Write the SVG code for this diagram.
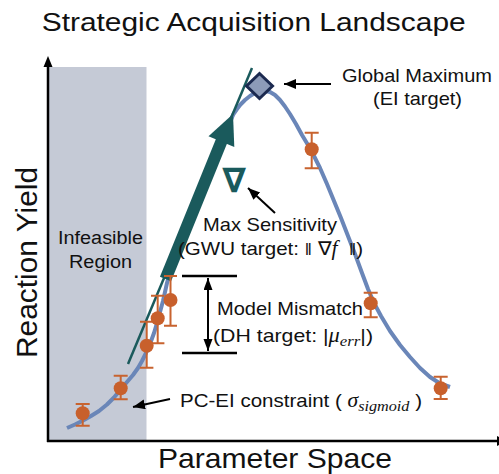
<svg xmlns="http://www.w3.org/2000/svg" width="499" height="474" viewBox="0 0 499 474">
<style>
.t{font-family:"Liberation Sans",Arial,sans-serif;fill:#111}
.m{font-family:"Liberation Serif","DejaVu Serif",serif;font-style:italic}
.eb{stroke:#c8632f;stroke-width:2;fill:none}
.dot{fill:#c8602c}
.ax{stroke:#000;stroke-width:2.5;fill:none}
.lbl{stroke:#000;stroke-width:2;fill:none}
</style>
<defs>
<marker id="ah" markerUnits="userSpaceOnUse" markerWidth="14" markerHeight="12" refX="12" refY="5" orient="auto">
<path d="M0,0 L12,5 L0,10 Z" fill="#000"/>
</marker>
<marker id="ah2" markerUnits="userSpaceOnUse" markerWidth="14" markerHeight="12" refX="12" refY="4.5" orient="auto-start-reverse">
<path d="M0,0 L12,4.5 L0,9 Z" fill="#000"/>
</marker>
</defs>
<rect x="48" y="67" width="98.5" height="374" fill="#c5cad6"/>
<g id="axes">
<line class="ax" x1="48" y1="442" x2="48" y2="66"/>
<path d="M43.5,67 L48,56 L52.5,67 Z" fill="#000"/>
<line class="ax" x1="47" y1="441" x2="497" y2="441"/>
<path d="M497,436 L508,441 L497,446 Z" fill="#000"/>
</g>
<text class="t" x="41.7" y="30.5" font-size="26" textLength="424" lengthAdjust="spacingAndGlyphs">Strategic Acquisition Landscape</text>
<text class="t" transform="translate(36.5,262.5) rotate(-90)" font-size="30" text-anchor="middle" textLength="191" lengthAdjust="spacingAndGlyphs">Reaction Yield</text>
<text class="t" x="275" y="467.5" font-size="28" text-anchor="middle" textLength="234" lengthAdjust="spacingAndGlyphs">Parameter Space</text>
<g id="infeasible">
<text class="t" x="100.5" y="244" font-size="18" text-anchor="middle" textLength="85" lengthAdjust="spacingAndGlyphs">Infeasible</text>
<text class="t" x="100.5" y="268" font-size="18" text-anchor="middle" textLength="63" lengthAdjust="spacingAndGlyphs">Region</text>
</g>
<g id="curve">
<polyline fill="none" stroke="#6a86b8" stroke-width="4" stroke-linejoin="round" stroke-linecap="butt" points="67,428 75,424.5 83,420.5 91,416 99,411 107,404.5 114,397.5 121,389 127,382 133,375 138,368 142,361 146,353 150,344 154,333 157,323 160,312 163,301 165,292 167,283 169.5,274 172.5,265 178.5,250 185,235 191,220 197,205 203,190 209.5,175 215.5,160 221.5,145 227,130 230.5,121 233.5,114 237,109 240.5,104.5 245,100 250,96 255,93 260,91.5 265,91 270,92 275,95 280,100 285,106.5 290,114 296,124 302,135 308,145 314,156 320,168 327,184 334,201 341,218 348,236 355,254 362,273 368,289 374,303 381,316 390,331 400,345 410,357 420,368 430,377 440,383.5 450,387"/>
</g>
<g id="gradient">
<line x1="128" y1="364" x2="252" y2="68" stroke="#1a5a5c" stroke-width="2.5"/>
<line x1="165.5" y1="279" x2="222" y2="140" stroke="#1a5a5c" stroke-width="12"/>
<polygon points="233,114 234.3,147.1 208.5,136.3" fill="#1a5a5c"/>
<text x="234" y="192" font-family="DejaVu Sans,sans-serif" font-weight="bold" font-size="34" fill="#1a5a5c" text-anchor="middle">∇</text>
</g>
<g id="points">
<g class="eb">
<path d="M82.7,404V425.7M75.7,404H89.7M75.7,425.7H89.7"/>
<path d="M120.7,375.7V399.3M113.7,375.7H127.7M113.7,399.3H127.7"/>
<path d="M146.7,321.7V367.7M140,321.7H153.4M140,367.7H153.4"/>
<path d="M157.7,295.7V343.3M151,295.7H164.4M151,343.3H164.4"/>
<path d="M170.5,276V325.7M164,276H177M164,325.7H177"/>
<path d="M311.7,132.7V168.3M304.7,132.7H318.7M304.7,168.3H318.7"/>
<path d="M370.7,292.7V317.3M363.7,292.7H377.7M363.7,317.3H377.7"/>
<path d="M440.7,376.7V399M433.7,376.7H447.7M433.7,399H447.7"/>
</g>
<circle class="dot" cx="82.7" cy="413.3" r="7"/>
<circle class="dot" cx="120.7" cy="388.3" r="7"/>
<circle class="dot" cx="146.7" cy="345.7" r="7"/>
<circle class="dot" cx="157.7" cy="318.3" r="7"/>
<circle class="dot" cx="170.5" cy="300" r="7"/>
<circle class="dot" cx="311.7" cy="149.3" r="7"/>
<circle class="dot" cx="370.7" cy="303.3" r="7"/>
<circle class="dot" cx="440.7" cy="388.3" r="7"/>
</g>
<g id="global-max">
<polygon points="259.5,73.5 272.5,86 259.5,98.5 246.5,86" fill="#8d9bb8" stroke="#1c2a50" stroke-width="3" stroke-linejoin="miter"/>
<line class="lbl" x1="331" y1="84" x2="284" y2="84" marker-end="url(#ah)"/>
<text class="t" x="417" y="82" font-size="19" text-anchor="middle" textLength="150" lengthAdjust="spacingAndGlyphs">Global Maximum</text>
<text class="t" x="417.5" y="105" font-size="19" text-anchor="middle" textLength="89" lengthAdjust="spacingAndGlyphs">(EI target)</text>
</g>
<g id="max-sens">
<line class="lbl" x1="275" y1="213" x2="248" y2="188" marker-end="url(#ah)"/>
<text class="t" x="270" y="231" font-size="19" text-anchor="middle" textLength="134" lengthAdjust="spacingAndGlyphs">Max Sensitivity</text>
<text class="t" x="178" y="255" font-size="19" textLength="185" lengthAdjust="spacingAndGlyphs">(GWU target: <tspan font-size="16">‖</tspan> ∇<tspan class="m" font-size="20">f</tspan>&#160;&#160;<tspan font-size="16">‖</tspan>)</text>
</g>
<g id="mismatch">
<line class="ax" x1="182" y1="276" x2="237" y2="276"/>
<line class="ax" x1="182" y1="353" x2="237" y2="353"/>
<line class="lbl" x1="208" y1="278" x2="208" y2="351" marker-start="url(#ah2)" marker-end="url(#ah2)"/>
<text class="t" x="290" y="315" font-size="19" text-anchor="middle" textLength="146" lengthAdjust="spacingAndGlyphs">Model Mismatch</text>
<text class="t" x="213" y="342" font-size="19" textLength="160" lengthAdjust="spacingAndGlyphs">(DH target: |<tspan class="m" font-size="20">μ</tspan><tspan class="m" font-size="15" dy="4">err</tspan><tspan dy="-4">|)</tspan></text>
</g>
<g id="pcei">
<line class="lbl" x1="170" y1="399" x2="133" y2="407" marker-end="url(#ah)"/>
<text class="t" x="180" y="407" font-size="19" textLength="242" lengthAdjust="spacingAndGlyphs">PC-EI constraint ( <tspan class="m" font-size="20">σ</tspan><tspan class="m" font-size="15" dy="4">sigmoid</tspan><tspan dy="-4"> )</tspan></text>
</g>
</svg>
